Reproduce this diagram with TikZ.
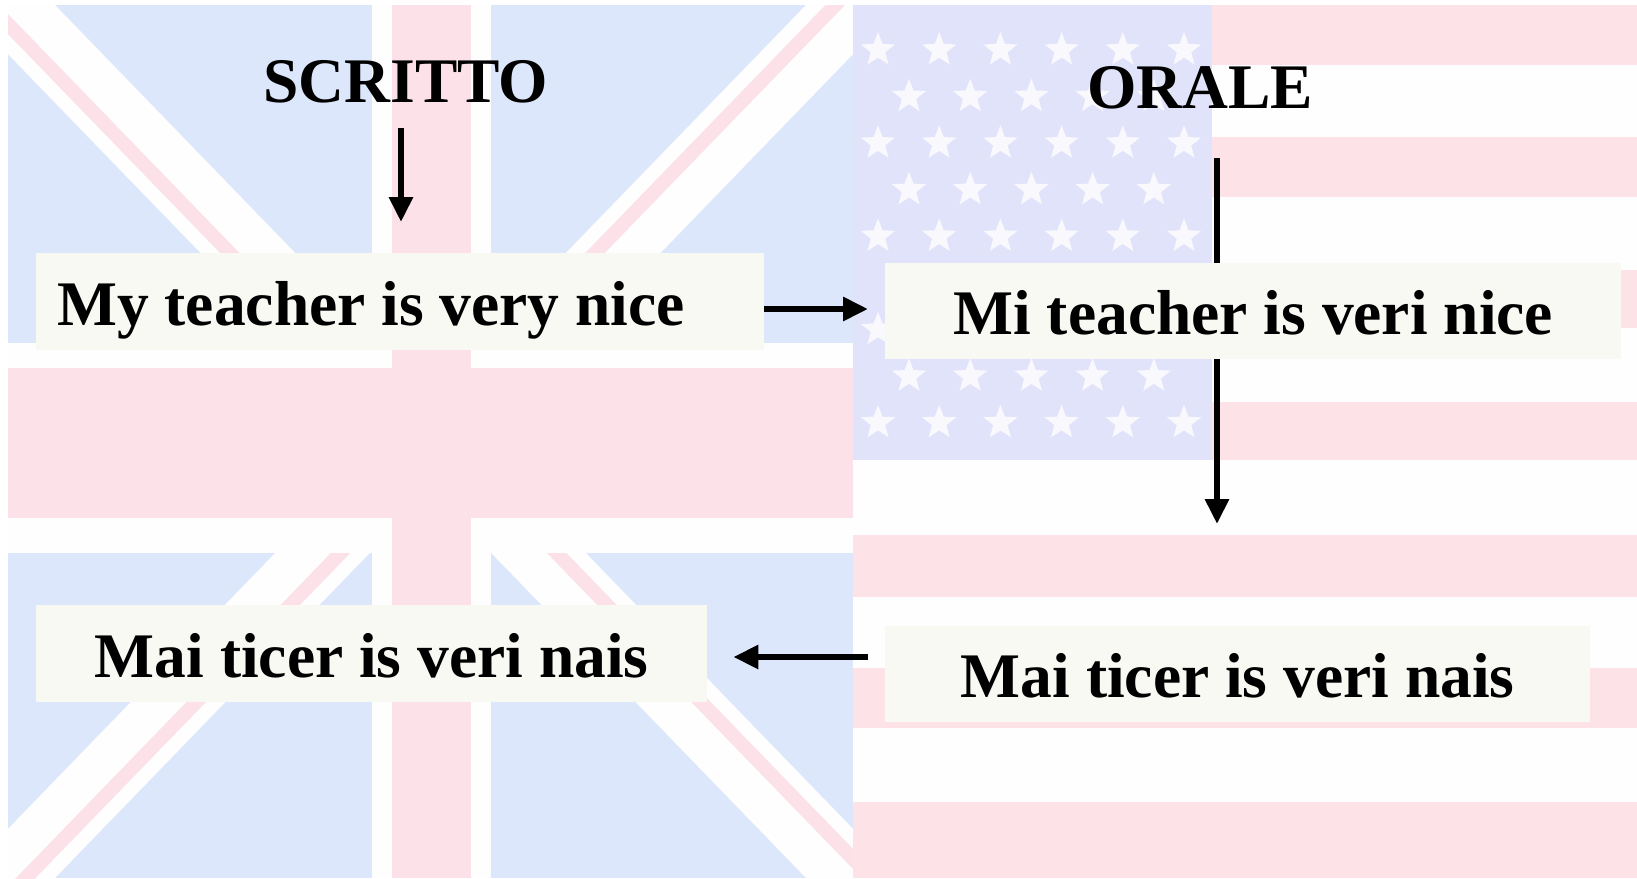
\documentclass[tikz,border=0pt]{standalone}
\usepackage{fontspec}
\setmainfont{Liberation Serif}
\usetikzlibrary{arrows.meta}
\definecolor{ukblue}{RGB}{220,231,251}
\definecolor{ukpink}{RGB}{252,226,232}
\definecolor{flagwhite}{RGB}{254,254,254}
\definecolor{uscanton}{RGB}{225,227,250}
\definecolor{uspink}{RGB}{253,227,232}
\definecolor{starwhite}{RGB}{248,248,253}
\definecolor{boxfill}{RGB}{248,249,242}
\begin{document}
\begin{tikzpicture}[x=1pt,y=-1pt,
  box/.style={fill=boxfill, inner sep=0pt, minimum height=97pt, anchor=north west,
    font=\bfseries\fontsize{63.5pt}{76pt}\selectfont, text height=60pt, text depth=13pt},
  title/.style={font=\bfseries\fontsize{63.5pt}{76pt}\selectfont, inner sep=0pt, anchor=base},
  arr/.style={line width=6pt, -{Triangle[length=25pt,width=23pt]}},
  usstar/.pic={\fill[starwhite] (-90:18) -- (-54:7.6) -- (-18:18) -- (18:7.6) -- (54:18) -- (90:7.6) -- (126:18) -- (162:7.6) -- (198:18) -- (234:7.6) -- cycle;}
]
\useasboundingbox (0,0) rectangle (1637,878);
\fill[white] (0,0) rectangle (1637,878);

% ---- UK flag (faded) ----
\begin{scope}
  \clip (8,5) rectangle (853,878);
  \fill[ukblue] (8,5) rectangle (853,878);
  \draw[flagwhite, line width=68pt] (-34,-38) -- (895,921);
  \draw[flagwhite, line width=68pt] (895,-38) -- (-34,921);
  \draw[ukpink, line width=14pt] (-43.4,-29.0) -- (421.1,450.5);
  \draw[ukpink, line width=14pt] (439.9,432.5) -- (904.4,912.0);
  \draw[ukpink, line width=14pt] (885.6,-47.0) -- (421.1,432.5);
  \draw[ukpink, line width=14pt] (439.9,450.5) -- (-24.6,930.0);
  \fill[flagwhite] (372,5) rectangle (491,878);
  \fill[flagwhite] (8,343) rectangle (853,553);
  \fill[ukpink] (392,5) rectangle (471,878);
  \fill[ukpink] (8,368) rectangle (853,518);
\end{scope}

% ---- US flag (faded) ----
\fill[flagwhite] (853,5) rectangle (1637,878);
\foreach \a/\b in {5/65,137/197,270/328,402/460,535/597,668/728,802/878}
  \fill[uspink] (853,\a) rectangle (1637,\b);
\fill[uscanton] (853,5) rectangle (1212,460);
\foreach \k in {0,2,4,6,8} \foreach \j in {0,...,5}
  \pic at ({878+61.2*\j},{50+46.6*\k}) {usstar};
\foreach \k in {1,3,5,7} \foreach \j in {0,...,4}
  \pic at ({909+61.2*\j},{50+46.6*\k}) {usstar};

% ---- helper coordinates ----
\coordinate (colA) at (401,0);
\coordinate (colB) at (1217,0);
\coordinate (rowA) at (0,309);
\coordinate (rowB) at (0,657);

% ---- titles and boxes ----
\node[title] (scritto) at (406,102) {SCRITTO};
\node[title] (orale) at (1200,108) {ORALE};
\node[box, minimum width=728pt, text width=686pt, inner xsep=21pt, align=flush left] (b1) at (36,253) {My teacher is very nice};
\node[box, minimum width=671pt] (b3) at (36,605) {Mai ticer is veri nais};
\node[box, minimum width=705pt, minimum height=96pt] (b4) at (885,626) {Mai ticer is veri nais};

\draw[arr, shorten <=49pt, shorten >=102pt] (orale.south -| colB) -- (b4.north -| colB);

\node[box, minimum width=736pt, minimum height=96pt] (b2) at (885,263) {Mi teacher is veri nice};

% ---- connectors ----
\draw[arr, shorten <=25pt, shorten >=31pt] (scritto.south -| colA) -- (b1.north -| colA);
\draw[arr, shorten >=17pt] (b1.east |- rowA) -- (b2.west |- rowA);
\draw[arr, shorten <=17pt, shorten >=26pt] (b4.west |- rowB) -- (b3.east |- rowB);
\end{tikzpicture}
\end{document}
